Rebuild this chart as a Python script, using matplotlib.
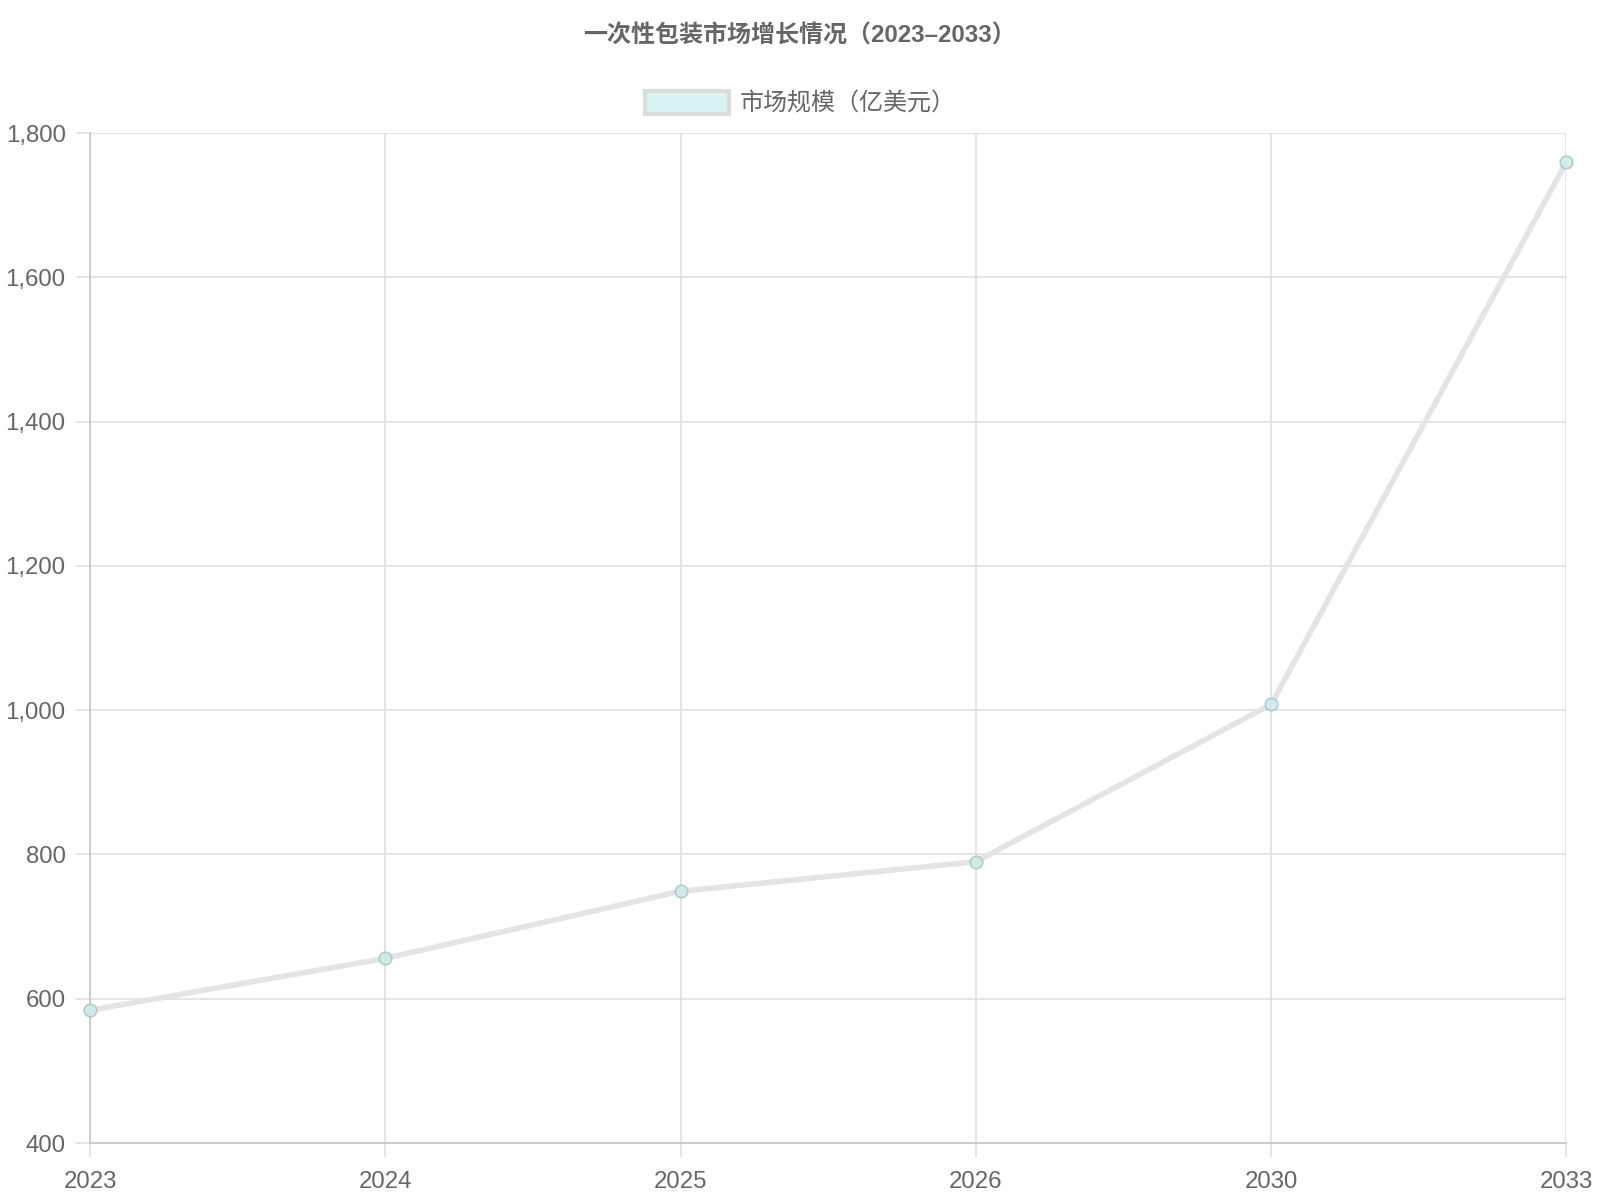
import matplotlib
matplotlib.use("Agg")
import matplotlib.pyplot as plt
from matplotlib.patches import Patch

plt.rcParams['font.family'] = ['Liberation Sans', 'Noto Sans CJK SC', 'DejaVu Sans']

years = ['2023', '2024', '2025', '2026', '2030', '2033']
market_size = [584, 656, 749, 790, 1008, 1760]
y_ticks = [400, 600, 800, 1000, 1200, 1400, 1600, 1800]
title = '一次性包装市场增长情况（2023–2033）'
series_label = '市场规模（亿美元）'

TXT = '#666666'
FS = 17.3

fig = plt.figure(figsize=(16, 12), dpi=100)
ax = fig.add_axes([0.05625, 0.0475, 0.979 - 0.05625, 0.889 - 0.0475])

x = list(range(len(years)))
ax.plot(x, market_size, color='#e4e4e4', linewidth=4.0, solid_capstyle='round', zorder=2)
ax.plot(x, market_size, linestyle='none', marker='o', markersize=9,
        markerfacecolor='#cde9e9', markeredgecolor='#a3c8c8', markeredgewidth=1.2,
        alpha=0.85, zorder=3, clip_on=False)

ax.set_xlim(0, len(years) - 1)
ax.set_ylim(400, 1800)
ax.set_xticks(x)
ax.set_xticklabels(years)
ax.set_yticks(y_ticks)
ax.set_yticklabels([f'{v:,}' for v in y_ticks])

ax.grid(True, color='#e0e0e0', linewidth=1.2, zorder=0)
ax.set_axisbelow(True)
for s in ['top', 'right']:
    ax.spines[s].set_visible(False)
for s in ['left', 'bottom']:
    ax.spines[s].set_color('#c8c8c8')
    ax.spines[s].set_linewidth(1.3)

ax.tick_params(axis='both', colors='#e0e0e0', labelcolor=TXT, labelsize=FS,
               length=10, width=1.2)
ax.tick_params(axis='y', pad=7.5)
ax.tick_params(axis='x', pad=10.5)

fig.text(0.5, 0.970, title, ha='center', va='center', fontsize=FS,
         fontweight='bold', color=TXT)

handle = Patch(facecolor='#d8f3f3', edgecolor='#dcdcdc', linewidth=3)
leg = fig.legend([handle], [series_label], loc='center', bbox_to_anchor=(0.5, 0.914),
                 frameon=False, fontsize=FS, handlelength=3.5, handleheight=1.1,
                 handletextpad=0.45, labelcolor=TXT)

fig.savefig('out.png', dpi=100, facecolor='white')
